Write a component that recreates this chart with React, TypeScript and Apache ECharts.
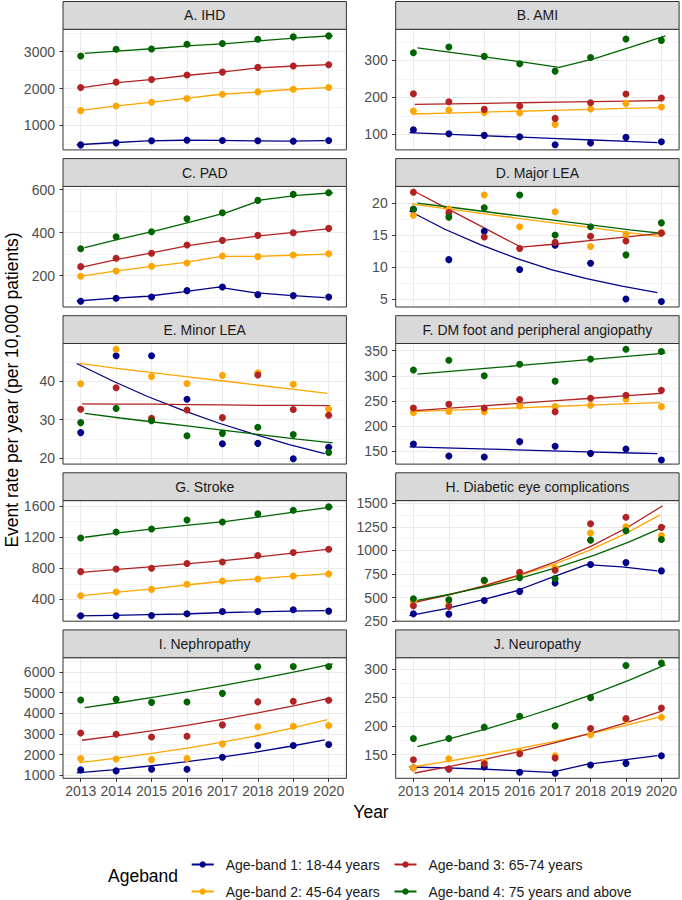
import React, { useEffect, useRef } from "react";
import * as echarts from "echarts";

// ---------------- data ----------------
const years = [2013, 2014, 2015, 2016, 2017, 2018, 2019, 2020];
const bandNames = [
  "Age-band 1: 18-44 years",
  "Age-band 2: 45-64 years",
  "Age-band 3: 65-74 years",
  "Age-band 4: 75 years and above",
];
const bandColors = ["#00008B", "#FFA500", "#B22222", "#006400"];
const panelTitles = [
  "A. IHD",
  "B. AMI",
  "C. PAD",
  "D. Major LEA",
  "E. Minor LEA",
  "F. DM foot and peripheral angiopathy",
  "G. Stroke",
  "H. Diabetic eye complications",
  "I. Nephropathy",
  "J. Neuropathy",
];

// observed rates (rows: age-band 1..4) and fitted trend values
const ihdObs = [
  [473, 527, 582, 600, 591, 582, 573, 591],
  [1400, 1527, 1627, 1727, 1845, 1909, 1982, 2027],
  [2027, 2173, 2245, 2364, 2445, 2573, 2609, 2645],
  [2882, 3064, 3073, 3200, 3218, 3336, 3400, 3427],
];
const ihdFit = [
  [475, 530, 580, 598, 592, 583, 575, 590],
  [1400, 1520, 1625, 1730, 1845, 1905, 1980, 2025],
  [2025, 2160, 2250, 2360, 2450, 2560, 2610, 2645],
  [2950, 3020, 3085, 3160, 3215, 3300, 3370, 3430],
];
const amiObs = [
  [112.6, 101.8, 97.3, 93.7, 72.1, 76.6, 91.9, 80.2],
  [163, 165.8, 159.5, 158.6, 127, 168.5, 183.8, 173.9],
  [209.9, 188.3, 167.6, 176.6, 143.2, 185.6, 209, 198.2],
  [320.7, 336, 310.8, 291, 271, 308, 357.7, 354],
];
const amiFit = [
  [104.5, 100.6, 96.8, 93, 89.2, 85.4, 81.6, 77.8],
  [155, 157.5, 160, 162.5, 165, 167.5, 170, 172.5],
  [181, 182.5, 184, 185.5, 187, 188.5, 190, 191.5],
  [334, 321, 308, 295, 281, 305, 335, 366],
];
const padObs = [
  [80.6, 94.6, 100.8, 130.2, 147.3, 111.6, 107, 100.8],
  [196.9, 221.7, 243.4, 258.9, 291.5, 288.4, 296.1, 302.3],
  [241.9, 280.6, 303.9, 342.6, 364.3, 387.6, 400, 420.2],
  [325.6, 381.4, 404.7, 465, 493, 550.4, 578.3, 586],
];
const padFit = [
  [82, 94, 104, 124, 147, 121, 108, 98],
  [197, 221, 242, 262, 290, 290, 295, 300],
  [240, 276, 307, 340, 364, 385, 401, 419],
  [330, 371, 408, 450, 493, 553, 574, 586],
];
const majorLeaObs = [
  [19.0, 11.15, 15.6, 9.6, 13.4, 10.6, 5.0, 4.6],
  [18.1, 19.06, 21.25, 16.3, 18.65, 13.2, 15.1, 15.4],
  [21.7, 18.5, 14.7, 12.9, 13.85, 14.8, 14.06, 15.3],
  [19.06, 17.8, 19.27, 21.25, 15.0, 16.3, 11.9, 16.9],
];
const majorLeaFit = [
  [18.75, 15.9, 13.5, 11.4, 9.6, 8.2, 7.0, 6.0],
  [19.85, 19.1, 18.35, 17.6, 16.9, 16.2, 15.45, 14.75],
  [21.8, 18.9, 16.0, 13.1, 13.6, 14.15, 14.7, 15.3],
  [20.0, 19.3, 18.6, 17.9, 17.2, 16.5, 15.8, 15.2],
];
const minorLeaObs = [
  [26.6, 46.6, 46.6, 35.3, 23.7, 23.8, 19.8, 22.8],
  [39.3, 48.3, 41.2, 39.4, 41.5, 42.2, 39.2, 32.7],
  [32.7, 38.3, 30.3, 32.5, 30.5, 41.6, 32.6, 31.1],
  [29.2, 32.9, 29.7, 25.8, 26.4, 28.0, 26.1, 21.4],
];
const minorLeaFit = [
  [44.6, 40.1, 36.0, 32.4, 29.1, 26.2, 23.5, 21.1],
  [44.6, 43.4, 42.3, 41.2, 40.1, 39.0, 37.9, 36.8],
  [34.1, 34.0, 34.0, 33.9, 33.8, 33.7, 33.7, 33.6],
  [31.6, 30.4, 29.3, 28.2, 27.1, 26.0, 24.9, 23.9],
];
const footObs = [
  [164.7, 140.7, 138.7, 169.3, 160, 146, 154.7, 132.7],
  [227.3, 229.3, 228.7, 240, 238.7, 241.3, 253.3, 238.7],
  [236, 243.3, 236, 252.7, 228.7, 255.3, 261.3, 271.3],
  [311.3, 330.7, 300, 322.7, 289.3, 333.3, 352.7, 348],
];
const footFit = [
  [158.7, 156.8, 154.9, 153, 151, 149.1, 147.2, 145.3],
  [228.7, 231.3, 233.8, 236.4, 239, 241.6, 244.1, 246.7],
  [230.7, 235.6, 240.6, 245.5, 250.5, 255.4, 260.4, 265.3],
  [303.3, 309.2, 315.1, 321, 327, 332.9, 338.8, 344.7],
];
const strokeObs = [
  [189, 189, 193, 214, 245, 245, 266, 249],
  [447, 495, 529, 594, 637, 663, 702, 728],
  [757, 791, 800, 861, 882, 964, 1003, 1046],
  [1190, 1268, 1307, 1423, 1397, 1501, 1548, 1591],
];
const strokeFit = [
  [188, 195, 203, 212, 228, 238, 250, 254],
  [445, 490, 532, 585, 630, 665, 700, 728],
  [748, 787, 822, 861, 900, 947, 999, 1046],
  [1200, 1260, 1310, 1360, 1405, 1465, 1530, 1590],
];
const eyeObs = [
  [328, 325, 470, 566, 655, 850, 871, 783],
  [455, 440, 673, 754, 815, 1184, 1251, 1159],
  [413, 406, 683, 768, 790, 1283, 1351, 1244],
  [488, 477, 683, 712, 701, 1109, 1209, 1116],
];
const eyeFit = [
  [310, 381, 470, 570, 712, 850, 825, 783],
  [450, 528, 619, 727, 852, 1000, 1173, 1376],
  [449, 532, 630, 747, 885, 1049, 1243, 1473],
  [470, 541, 623, 717, 825, 950, 1093, 1258],
];
const nephObs = [
  [1259, 1210, 1291, 1291, 1874, 2440, 2440, 2490],
  [1806, 1790, 1757, 1806, 2518, 3343, 3375, 3408],
  [3049, 2984, 2854, 2887, 3437, 4553, 4586, 4634],
  [4641, 4673, 4528, 4544, 4964, 6250, 6260, 6260],
];
const nephFit = [
  [1113, 1264, 1436, 1632, 1854, 2106, 2392, 2715],
  [1615, 1817, 2045, 2300, 2588, 2912, 3276, 3687],
  [2693, 2920, 3165, 3431, 3719, 4032, 4370, 4738],
  [4269, 4522, 4790, 5074, 5375, 5694, 6031, 6389],
];
const neuroObs = [
  [127.3, 125, 128.5, 119.2, 117.4, 132, 134.9, 148.3],
  [127, 143, 137.2, 155, 148, 184.9, 211, 215.7],
  [141.3, 125, 134.3, 151.7, 144.2, 196, 213.4, 232],
  [178.5, 178.5, 198.3, 217.4, 200.6, 250, 306.4, 310.5],
];
const neuroFit = [
  [128.5, 127, 125, 122, 119, 133, 140.7, 148.3],
  [128.5, 138.4, 149.1, 160.6, 173, 186.4, 200.8, 216.3],
  [118, 129.5, 142.2, 156.2, 171.5, 188.3, 206.7, 227],
  [164, 179.4, 196.3, 214.8, 235, 257, 281.2, 307.6],
];

const observed = [ihdObs, amiObs, padObs, majorLeaObs, minorLeaObs, footObs, strokeObs, eyeObs, nephObs, neuroObs];
const fitted = [ihdFit, amiFit, padFit, majorLeaFit, minorLeaFit, footFit, strokeFit, eyeFit, nephFit, neuroFit];

// axis ranges and tick labels
const yMins = [336, 58, 54, 3.75, 18.4, 124.7, 119, 250, 852, 108.7];
const yMaxs = [3605, 384, 615.5, 22.6, 49.8, 364, 1672, 1528, 6690, 320];
const yTicks = [
  [1000, 2000, 3000],
  [100, 200, 300],
  [200, 400, 600],
  [5, 10, 15, 20],
  [20, 30, 40],
  [150, 200, 250, 300, 350],
  [400, 800, 1200, 1600],
  [250, 500, 750, 1000, 1250, 1500],
  [1000, 2000, 3000, 4000, 5000, 6000],
  [150, 200, 250, 300],
];

// ---------------- layout / style ----------------
const FONT = "'Liberation Sans', Arial, Helvetica, sans-serif";
const PLOT_LEFT = [63, 395.7];
const PLOT_W = 283.4;
const PLOT_TOP0 = 29.3;
const ROW_STEP = 157.1;
const PLOT_H = 120.6;
const STRIP_H = 27.8;
const DODGE = [-0.1125, -0.0375, 0.0375, 0.1125];
const plainNumber = (v: number) => String(v);

function minorOf(ticks: number[], lo: number, hi: number) {
  const step = ticks.length > 1 ? ticks[1] - ticks[0] : 1;
  const out: number[] = [];
  for (let v = ticks[0] - step / 2; v <= hi; v += step) {
    if (v >= lo && v <= hi) out.push(v);
  }
  return out;
}

function buildOption() {
  const grids: any[] = [];
  const xAxes: any[] = [];
  const yAxes: any[] = [];
  const series: any[] = [];
  const graphics: any[] = [];

  // legend-only series
  bandNames.forEach((name, j) => {
    series.push({
      type: "line",
      name,
      xAxisIndex: 0,
      yAxisIndex: 0,
      data: [],
      symbol: "circle",
      symbolSize: 7,
      lineStyle: { color: bandColors[j], width: 1.3 },
      itemStyle: { color: bandColors[j] },
    });
  });

  panelTitles.forEach((title, i) => {
    const col = i % 2;
    const row = Math.floor(i / 2);
    const left = PLOT_LEFT[col];
    const top = PLOT_TOP0 + row * ROW_STEP;
    const isBottom = row === 4;
    grids.push({
      left,
      top,
      width: PLOT_W,
      height: PLOT_H,
      show: true,
      borderColor: "#333333",
      borderWidth: 1,
      backgroundColor: "transparent",
      z: 5,
    });
    xAxes.push({
      type: "value",
      gridIndex: i,
      min: 2012.5,
      max: 2020.5,
      axisLine: { show: false, onZero: false },
      axisTick: { show: isBottom, customValues: years, length: 3.5, lineStyle: { color: "#333333", width: 1 } },
      axisLabel: {
        show: isBottom,
        customValues: years,
        formatter: plainNumber,
        margin: 6,
        color: "#4D4D4D",
        fontSize: 14,
        fontFamily: FONT,
      },
      splitLine: { show: true, lineStyle: { color: "#EBEBEB", width: 1 } },
    });
    yAxes.push({
      type: "value",
      gridIndex: i,
      position: "left",
      min: yMins[i],
      max: yMaxs[i],
      axisLine: { show: false, onZero: false },
      axisTick: { show: true, customValues: yTicks[i], length: 3.5, lineStyle: { color: "#333333", width: 1 } },
      axisLabel: {
        customValues: yTicks[i],
        formatter: plainNumber,
        margin: 8,
        color: "#4D4D4D",
        fontSize: 14,
        fontFamily: FONT,
      },
      splitLine: { show: true, lineStyle: { color: "#EBEBEB", width: 1 } },
    });
    const minor = minorOf(yTicks[i], yMins[i], yMaxs[i]);
    yAxes.push({
      type: "value",
      gridIndex: i,
      position: "left",
      min: yMins[i],
      max: yMaxs[i],
      axisLine: { show: false, onZero: false },
      axisTick: { show: false, customValues: minor },
      axisLabel: { show: false, customValues: minor },
      splitLine: { show: true, lineStyle: { color: "#EBEBEB", width: 0.5 } },
    });
    const yIdx = 2 * i;
    for (let j = 0; j < 4; j++) {
      series.push({
        type: "line",
        name: `${title} fit ${j + 1}`,
        xAxisIndex: i,
        yAxisIndex: yIdx,
        data: years.map((yr, k) => [yr + DODGE[j], fitted[i][j][k]]),
        showSymbol: false,
        symbol: "none",
        lineStyle: { color: bandColors[j], width: 1.3 },
        itemStyle: { color: bandColors[j] },
        z: 2,
        silent: true,
      });
    }
    for (let j = 0; j < 4; j++) {
      series.push({
        type: "scatter",
        name: `${title} observed ${j + 1}`,
        xAxisIndex: i,
        yAxisIndex: yIdx,
        data: years.map((yr, k) => [yr, observed[i][j][k]]),
        symbol: "circle",
        symbolSize: 7,
        itemStyle: { color: bandColors[j], opacity: 1 },
        z: 3 + j * 0.01,
        silent: true,
      });
    }
    // strip
    graphics.push({
      type: "rect",
      shape: { x: left, y: top - STRIP_H, width: PLOT_W, height: STRIP_H },
      style: { fill: "#D9D9D9", stroke: "#333333", lineWidth: 1 },
      z: 10,
    });
    graphics.push({
      type: "text",
      x: left + PLOT_W / 2,
      y: top - STRIP_H / 2,
      style: {
        text: title,
        fill: "#1A1A1A",
        font: `14px ${FONT}`,
        align: "center",
        verticalAlign: "middle",
        textAlign: "center",
        textVerticalAlign: "middle",
      },
      z: 11,
    });
  });

  // axis titles and legend title
  graphics.push({
    type: "text",
    x: 12,
    y: 390,
    rotation: Math.PI / 2,
    style: {
      text: "Event rate per year (per 10,000 patients)",
      fill: "#000000",
      font: `17.5px ${FONT}`,
      align: "center",
      verticalAlign: "middle",
      textAlign: "center",
      textVerticalAlign: "middle",
    },
    z: 11,
  });
  graphics.push({
    type: "text",
    x: 371,
    y: 812,
    style: {
      text: "Year",
      fill: "#000000",
      font: `17.5px ${FONT}`,
      align: "center",
      verticalAlign: "middle",
      textAlign: "center",
      textVerticalAlign: "middle",
    },
    z: 11,
  });
  graphics.push({
    type: "text",
    x: 108,
    y: 876,
    style: {
      text: "Ageband",
      fill: "#000000",
      font: `17.5px ${FONT}`,
      align: "left",
      verticalAlign: "middle",
      textAlign: "left",
      textVerticalAlign: "middle",
    },
    z: 11,
  });

  const legendCommon = {
    orient: "vertical",
    top: 857.5,
    itemWidth: 22,
    itemHeight: 8,
    itemGap: 13,
    selectedMode: false,
    padding: 0,
    textStyle: { fontSize: 14, color: "#1A1A1A", fontFamily: FONT, padding: [0, 0, 0, 7] },
  };

  return {
    animation: false,
    backgroundColor: "#FFFFFF",
    textStyle: { fontFamily: FONT },
    grid: grids,
    xAxis: xAxes,
    yAxis: yAxes,
    series,
    graphic: graphics,
    legend: [
      { ...legendCommon, left: 190.7, data: [bandNames[0], bandNames[1]] },
      { ...legendCommon, left: 393.5, data: [bandNames[2], bandNames[3]] },
    ],
  };
}

export default function App() {
  const ref = useRef<HTMLDivElement>(null);
  useEffect(() => {
    document.body.style.margin = "0";
    const chart = echarts.init(ref.current as HTMLDivElement, null, { renderer: "svg" });
    chart.setOption(buildOption() as any);
    return () => {
      chart.dispose();
    };
  }, []);
  return <div ref={ref} style={{ width: 682, height: 900 }} />;
}
